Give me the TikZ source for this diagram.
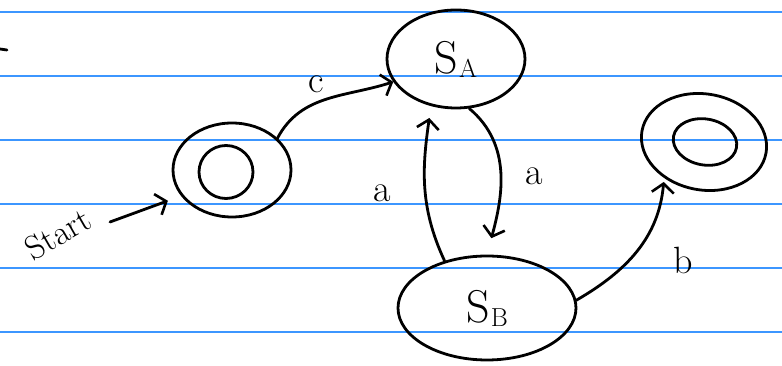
\documentclass[tikz,border=0pt]{standalone}
\usetikzlibrary{shapes.geometric,arrows.meta}
\definecolor{ruled}{RGB}{60,150,255}
\tikzset{
  x=1pt,y=1pt,
  ink/.style={line width=2.8pt, line cap=round, black},
  statebox/.style={ellipse, draw, ink, inner sep=0pt},
  edge/.style={ink, -{Straight Barb[length=9pt,width=22pt,line width=2.6pt]}},
  lbl/.style={font=\fontsize{38}{38}\selectfont, inner sep=0pt},
  rule/.style={draw=ruled, line width=1.4pt}
}
\newcommand{\stlabel}[1]{\fontsize{46}{46}\selectfont S\kern1pt\raisebox{-4pt}{\fontsize{26}{26}\selectfont #1}}
\begin{document}
\begin{tikzpicture}
\useasboundingbox (0,0) rectangle (782,366);
% ruled paper
\foreach \yy in {354,290,226,162,98,34} \draw[rule] (0,\yy) -- (782,\yy);
% stray mark
\draw[ink] (0,317) -- (7,316);

% states
\node[statebox, minimum width=118pt, minimum height=94pt] (q0) at (232,196) {};
\node[statebox, minimum width=54pt, minimum height=53pt] (q0in) at (226,194) {};
\node[statebox, minimum width=138pt, minimum height=98pt] (sa) at (456,307) {\stlabel{A}};
\node[statebox, minimum width=178pt, minimum height=104pt] (sb) at (487,58) {\stlabel{B}};
\node[statebox, minimum width=126pt, minimum height=96pt, rotate=-10] (q2) at (704,224) {};
\node[statebox, minimum width=64pt, minimum height=46pt, rotate=-10] (q2in) at (705,224) {};

% start
\node[font=\fontsize{34}{34}\selectfont, rotate=30, inner sep=0pt] (start) at (58,132) {Start};
\coordinate (s0) at (110,144);
\draw[edge, shorten >=14pt] (s0) -- (q0.207);

% transitions
\draw[edge] (q0.35) to[out=62,in=198] (sa.200);
\node[lbl] (lc) at (316,282) {c};
\draw[edge, shorten >=17pt] (sa.-75) to[out=-40,in=75] (sb.90);
\node[lbl] (la1) at (534,190) {a};
\draw[edge, shorten >=12pt] (sb.132) to[out=115,in=-98] (sa.242);
\node[lbl] (la2) at (382,173) {a};
\draw[edge, shorten >=4pt] (sb.5) to[out=30,in=-95] (q2.232);
\node[lbl] (lb) at (683,106) {b};
\end{tikzpicture}
\end{document}
